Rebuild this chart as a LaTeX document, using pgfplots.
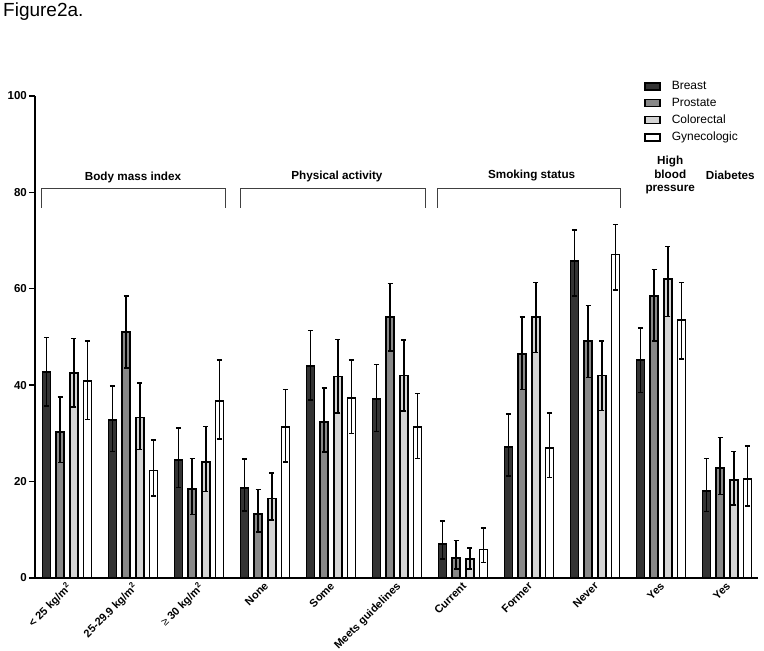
\documentclass[border=0pt]{standalone}
\usepackage{pgfplots}
\pgfplotsset{compat=1.18}
\usepackage{pgfplotstable}
\usepackage{fontspec}
\setmainfont{Liberation Sans}
\definecolor{cBreast}{HTML}{333333}
\definecolor{cProstate}{HTML}{888888}
\definecolor{cColorectal}{HTML}{D4D4D4}
\definecolor{cGyn}{HTML}{FFFFFF}

% x  value  plus  minus
\pgfplotstableread{
x y ep em
0 42.7 7.2 7.0
1 32.8 7.0 6.6
2 24.5 6.6 5.7
3 18.7 6.0 4.8
4 44.0 7.3 7.1
5 37.1 7.2 6.7
6 7.0 4.8 3.1
7 27.2 6.8 6.0
8 65.8 6.4 7.3
9 45.2 6.7 6.7
10 18.0 6.8 4.2
}\breast
\pgfplotstableread{
x y ep em
0 30.3 7.2 6.3
1 51.1 7.4 7.5
2 18.5 6.3 5.3
3 13.3 5.1 3.8
4 32.4 7.0 6.3
5 54.1 7.0 7.0
6 4.2 3.6 2.3
7 46.5 7.6 7.4
8 49.2 7.3 7.6
9 58.5 5.5 9.3
10 22.8 6.4 5.5
}\prostate
\pgfplotstableread{
x y ep em
0 42.5 7.2 7.0
1 33.3 7.2 6.6
2 24.1 7.3 6.2
3 16.5 5.3 4.5
4 41.8 7.7 7.6
5 42.0 7.4 7.4
6 3.9 2.3 2.0
7 54.2 7.1 7.4
8 42.0 7.2 7.2
9 62.0 6.8 7.7
10 20.3 5.9 5.2
}\colorectal
\pgfplotstableread{
x y ep em
0 40.9 8.3 8.0
1 22.3 6.3 5.3
2 36.7 8.5 7.9
3 31.3 7.8 7.2
4 37.4 7.8 7.4
5 31.3 7.0 6.5
6 5.9 4.5 2.7
7 27.0 7.2 6.1
8 67.1 6.2 7.3
9 53.5 7.8 8.1
10 20.6 6.8 5.7
}\gyn

\begin{document}
\begin{tikzpicture}
\useasboundingbox (0,0) rectangle (764pt,651pt);
\node[anchor=base west, inner sep=0pt, font=\fontsize{19}{22}\selectfont] at (3pt,634pt) {Figure2a.};
\begin{axis}[
  at={(35pt,73pt)}, anchor=south west,
  width=723pt, height=482pt, scale only axis,
  xmin=-0.485, xmax=10.47,
  ymin=0, ymax=100,
  axis lines=left,
  axis line style={-, line width=1.8pt},
  ytick={0,20,40,60,80,100},
  tick align=outside,
  major tick length=6pt,
  ytick style={line width=1.4pt, black},
  xtick={0,...,10},
  xtick style={draw=none},
  xticklabels={{< 25 kg/m\textsuperscript{2}},{25-29.9 kg/m\textsuperscript{2}},{{\mdseries ≥} 30 kg/m\textsuperscript{2}},None,Some,Meets guidelines,Current,Former,Never,Yes,Yes},
  xticklabel style={rotate=45, anchor=north east, font=\bfseries\fontsize{11}{13}\selectfont, inner sep=1pt, yshift=4pt, xshift=2pt},
  yticklabel style={font=\bfseries\fontsize{11.5}{13}\selectfont, inner sep=2pt},
  /pgf/number format/assume math mode=true,
  ybar=5.7pt, bar width=8pt,
  every axis plot/.append style={draw=black, line width=1.8pt},
  error bars/error bar style={line width=1.5pt, black},
  error bars/error mark options={line width=1.5pt, black, mark size=2.6pt, rotate=90},
  legend image code/.code={\draw[#1, line width=1.8pt] (0pt,-3.5pt) rectangle (15pt,3.5pt); \path (24pt,0pt);},
  legend style={draw=none, fill=none, at={(0.842,1.035)}, anchor=north west,
    font=\fontsize{12}{14}\selectfont, row sep=3pt, inner sep=0pt},
  legend cell align=left,
  clip=false,
]
\addplot[fill=cBreast, error bars/.cd, y dir=both, y explicit] table[x=x, y=y, y error plus=ep, y error minus=em] {\breast};
\addplot[fill=cProstate, error bars/.cd, y dir=both, y explicit] table[x=x, y=y, y error plus=ep, y error minus=em] {\prostate};
\addplot[fill=cColorectal, error bars/.cd, y dir=both, y explicit] table[x=x, y=y, y error plus=ep, y error minus=em] {\colorectal};
\addplot[fill=cGyn, error bars/.cd, y dir=both, y explicit] table[x=x, y=y, y error plus=ep, y error minus=em] {\gyn};
\legend{Breast,Prostate,Colorectal,Gynecologic}

\draw[line width=1pt, black!75] (axis cs:-0.383,76.8) -- (axis cs:-0.383,80.8) -- (axis cs:2.405,80.8) -- (axis cs:2.405,76.8);
\draw[line width=1pt, black!75] (axis cs:2.635,76.8) -- (axis cs:2.635,80.8) -- (axis cs:5.43,80.8) -- (axis cs:5.43,76.8);
\draw[line width=1pt, black!75] (axis cs:5.61,76.8) -- (axis cs:5.61,80.8) -- (axis cs:8.385,80.8) -- (axis cs:8.385,76.8);
\node[font=\bfseries\fontsize{11.7}{13.5}\selectfont] at (axis cs:1.0,83.0) {Body mass index};
\node[font=\bfseries\fontsize{11.7}{13.5}\selectfont] at (axis cs:4.09,83.4) {Physical activity};
\node[font=\bfseries\fontsize{11.7}{13.5}\selectfont] at (axis cs:7.04,83.6) {Smoking status};
\node[font=\bfseries\fontsize{11.7}{13.5}\selectfont, align=center] at (axis cs:9.14,83.6) {High\\blood\\pressure};
\node[font=\bfseries\fontsize{11.7}{13.5}\selectfont] at (axis cs:10.05,83.6) {Diabetes};
\end{axis}
\end{tikzpicture}
\end{document}
